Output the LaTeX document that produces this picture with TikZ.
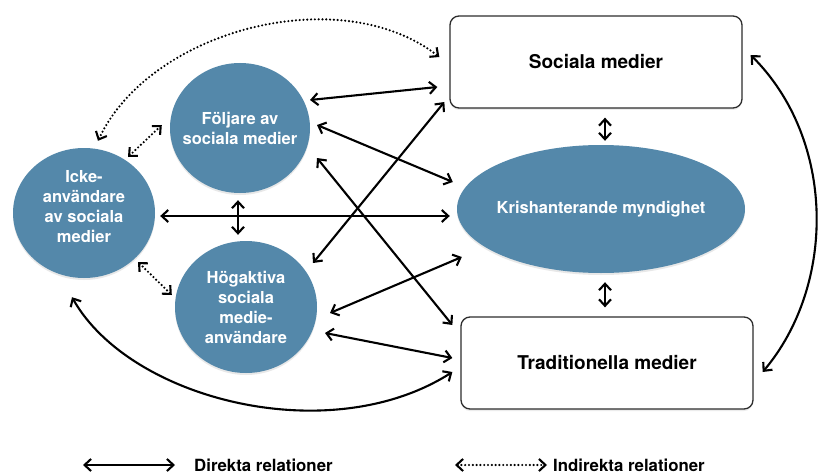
\documentclass[tikz,border=0pt]{standalone}
\usepackage{fontspec}
\setmainfont{TeX Gyre Heros}
\usetikzlibrary{arrows.meta,calc,shapes.geometric,shadows}
\definecolor{blob}{RGB}{84,136,170}
\definecolor{edgegray}{RGB}{45,45,45}
\begin{document}
\begin{tikzpicture}[x=1pt,y=-1pt,
  actor/.style={ellipse, fill=blob, inner sep=0pt,
    drop shadow={shadow xshift=0pt, shadow yshift=-2pt, opacity=0.18}},
  actortext/.style={text=white, align=center, inner sep=0pt,
    font=\fontsize{16.5}{20}\selectfont\bfseries},
  medium/.style={draw=edgegray, line width=1.3pt, rounded corners=9pt, fill=white,
    minimum width=292pt, minimum height=92pt,
    font=\fontsize{19}{22}\selectfont\bfseries,
    drop shadow={shadow xshift=0pt, shadow yshift=-2pt, opacity=0.15}},
  tipb/.tip={Straight Barb[length=6.5pt,width=12pt,line width=2.1pt]},
  rel/.style={line width=2.1pt, tipb-tipb},
  irel/.style={rel, line cap=round, line width=2.4pt, dash pattern=on 0pt off 3.8pt},
  legendtext/.style={anchor=base west, font=\fontsize{16.8}{20}\selectfont\bfseries, inner sep=0pt}]
\useasboundingbox[fill=white] (0,0) rectangle (821,476);

% media boxes
\node[medium] (soc) at (596,62) {Sociala medier};
\node[medium] (trad) at (607,363) {Traditionella medier};

% actors
\node[actor, minimum width=288pt, minimum height=128pt] (kris) at (601,209) {};
\node[actortext] (krisT) at (kris.center) {Krishanterande myndighet};
\node[actor, minimum width=140pt, minimum height=130pt] (fol) at (240,128) {};
\node[actortext] (folT) at (fol.center) {Följare av\\sociala medier};
\node[actor, minimum width=142pt, minimum height=130pt] (icke) at (84,213) {};
\node[actortext] (ickeT) at ([yshift=6pt]icke.center) {Icke-\\användare\\av sociala\\medier};
\node[actor, minimum width=142pt, minimum height=132pt] (hog) at (246,307) {};
\node[actortext] (hogT) at (hog.center) {Högaktiva\\sociala\\medie-\\användare};

% indirect relations
\draw[irel] ($(icke.north)+(14,-7)$) .. controls (150,30) and (340,-20) .. ($(soc.west)+(-10,-5)$);
\draw[irel] ($(icke.center)+(44,-56)$) -- ($(fol.west)+(-8,-3)$);
\draw[irel] ($(icke.center)+(54,49)$) -- ($(hog.west)+(-3,-12)$);

% direct relations
\draw[rel] ($(fol.center)+(70,-28)$) -- ($(soc.west)+(-12,25)$);
\draw[rel] ($(fol.center)+(77,-3)$) -- ($(kris.west)+(-4,-27)$);
\draw[rel] ($(fol.center)+(77,30)$) -- ($(trad.west)+(-8,-38)$);
\draw[rel] ($(hog.center)+(67,-44)$) -- ($(soc.west)+(-5,40)$);
\draw[rel] ($(hog.center)+(84,6)$) -- ($(kris.west)+(5,48)$);
\draw[rel] ($(hog.center)+(79,26)$) -- ($(trad.west)+(-8,-5)$);
\draw[rel] ($(icke.east)+(5,3)$) -- ($(kris.west)+(-7,7)$);
\draw[rel] ($(fol.south)+(-2,7)$) -- ($(hog.north)+(-8,-6)$);
\draw[rel] ($(icke.south)+(-12,19)$) .. controls (130,400) and (330,450) .. ($(trad.west)+(-8,9)$);
\draw[rel] ($(soc.south)+(9,9)$) -- ($(kris.north)+(4,-4)$);
\draw[rel] ($(kris.south)+(4,9)$) -- ($(trad.north)+(-2,-9)$);
\draw[rel] ($(soc.east)+(8,-7)$) .. controls (836,140) and (836,285) .. ($(trad.east)+(9,9)$);

% legend
\coordinate (la) at (83,465);
\coordinate (lb) at (175,465);
\coordinate (lc) at (455,465);
\coordinate (ld) at (547,465);
\draw[rel] (la) -- (lb);
\node[legendtext] (lt1) at (194,471) {Direkta relationer};
\draw[irel] (lc) -- (ld);
\node[legendtext] (lt2) at (553,471) {Indirekta relationer};
\end{tikzpicture}
\end{document}
